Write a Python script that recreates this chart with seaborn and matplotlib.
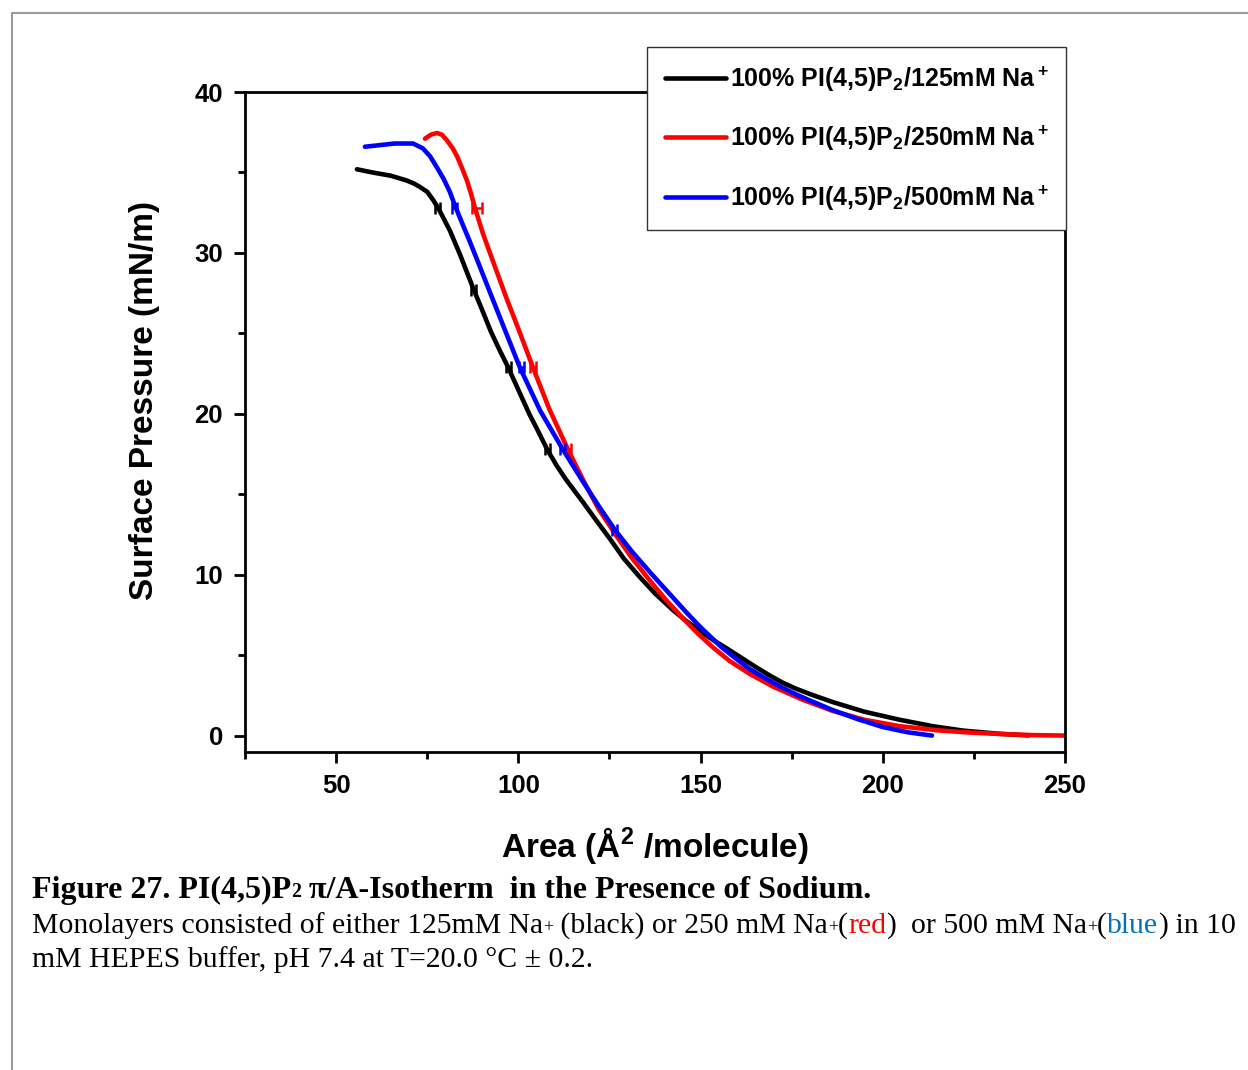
import numpy as np
import pandas as pd
import matplotlib
matplotlib.use("Agg")
import matplotlib.pyplot as plt
import seaborn as sns
from matplotlib.lines import Line2D
from matplotlib.transforms import IdentityTransform

# ---------------- data ----------------
black_x = [55.7, 60, 65, 69.4, 71.5, 73, 75, 76.6, 78, 81.2, 84, 87.8, 90, 92.5, 95, 97.2, 100,
           103, 105.5, 107.9, 110.5, 113, 117.8, 121.5, 125.1, 129, 133.4, 137.5, 142.5, 146,
           150, 153.5, 157.1, 165, 169, 172.6, 176, 180, 186.3, 195, 204.7, 213.8, 222, 232, 240]
black_y = [35.2, 35.0, 34.8, 34.5, 34.3, 34.1, 33.8, 33.3, 32.8, 31.4, 29.9, 27.7, 26.5, 25.1,
           23.9, 22.9, 21.5, 20.0, 18.9, 17.8, 16.8, 15.95, 14.5, 13.35, 12.25, 11.0, 9.85, 8.85,
           7.8, 7.15, 6.5, 5.95, 5.45, 4.3, 3.75, 3.3, 2.95, 2.6, 2.1, 1.5, 1.0, 0.6, 0.33,
           0.13, 0.03]

red_x = [74.4, 76, 77.7, 79, 80.4, 82, 83.2, 84.5, 85.9, 87, 88.1, 90.3, 93.5, 96.9, 100.5, 104,
         108.5, 113.6, 118, 122, 127, 131, 136.1, 140.5, 145.2, 149.3, 153.4, 158, 163.5, 170,
         178, 186.3, 195, 204.7, 215, 223, 232, 241, 250]
red_y = [37.1, 37.35, 37.45, 37.35, 37.0, 36.5, 36.0, 35.3, 34.5, 33.7, 32.8, 31.2, 29.2, 27.1,
         25.0, 22.9, 20.3, 17.8, 15.8, 14.1, 12.4, 11.1, 9.65, 8.45, 7.3, 6.35, 5.5, 4.65, 3.85,
         3.05, 2.25, 1.55, 1.0, 0.6, 0.35, 0.22, 0.12, 0.05, 0.02]

blue_x = [57.9, 62, 66, 71.1, 73.8, 75.8, 77.7, 79.5, 81.2, 82.6, 84.5, 86.7, 89, 91, 96, 100.4,
          106, 112.2, 118, 122, 126.5, 131, 136, 141, 146, 150, 155.8, 160, 163.5, 168, 172,
          176, 180, 186.3, 193, 200, 207, 213.5]
blue_y = [36.6, 36.7, 36.8, 36.8, 36.5, 36.0, 35.3, 34.6, 33.8, 32.95, 31.9, 30.7, 29.4, 28.25,
          25.4, 22.9, 20.2, 17.8, 15.7, 14.3, 12.8, 11.5, 10.2, 8.95, 7.7, 6.75, 5.5, 4.75,
          4.15, 3.55, 3.05, 2.6, 2.2, 1.6, 1.05, 0.55, 0.22, 0.02]

# horizontal error bars
black_err_x = [77.7, 87.8, 97.2, 107.9]
black_err_y = [32.8, 27.7, 22.9, 17.8]
black_err = [0.7, 0.7, 0.7, 0.7]
red_err_x = [88.6, 104.0, 113.6]
red_err_y = [32.8, 22.9, 17.8]
red_err = [1.4, 0.8, 0.8]
blue_err_x = [82.6, 100.8, 112.2, 126.5]
blue_err_y = [32.8, 22.9, 17.8, 12.8]
blue_err = [0.7, 0.7, 0.7, 0.7]

series_labels = [r"100% PI(4,5)P$_2$/125mM Na$^+$",
                 r"100% PI(4,5)P$_2$/250mM Na$^+$",
                 r"100% PI(4,5)P$_2$/500mM Na$^+$"]
series_colors = ["#000000", "#FF0000", "#0000FF"]

x_major = [50, 100, 150, 200, 250]
x_minor = [25, 75, 125, 175, 225]
y_major = [0, 10, 20, 30, 40]
y_minor = [5, 15, 25, 35]

# ---------------- style ----------------
sns.set_theme(style="ticks")
plt.rcParams["font.family"] = ["Liberation Sans", "DejaVu Sans"]
plt.rcParams["font.weight"] = "bold"
plt.rcParams["text.color"] = "black"
plt.rcParams["axes.labelcolor"] = "black"
plt.rcParams["xtick.color"] = "black"
plt.rcParams["ytick.color"] = "black"
plt.rcParams["mathtext.fontset"] = "custom"
plt.rcParams["mathtext.rm"] = "Liberation Sans:bold"
plt.rcParams["mathtext.bf"] = "Liberation Sans:bold"
plt.rcParams["mathtext.it"] = "Liberation Sans:bold"
plt.rcParams["mathtext.sf"] = "Liberation Sans:bold"
plt.rcParams["mathtext.default"] = "rm"

W, H = 1248, 1070
fig = plt.figure(figsize=(W / 100, H / 100), dpi=100)
fig.patch.set_facecolor("white")
ax = fig.add_axes([245 / W, 1 - 752 / H, 820 / W, 660 / H])
ax.set_facecolor("white")

frames = []
for lab, xs, ys in zip(series_labels, [black_x, red_x, blue_x], [black_y, red_y, blue_y]):
    frames.append(pd.DataFrame({"area": xs, "pressure": ys, "series": lab}))
df = pd.concat(frames, ignore_index=True)

sns.lineplot(data=df, x="area", y="pressure", hue="series",
             palette=dict(zip(series_labels, series_colors)),
             sort=False, estimator=None, linewidth=3.3, legend=False, ax=ax)
for ln in ax.get_lines():
    ln.set_solid_joinstyle("round")
    ln.set_solid_capstyle("round")

for ex, ey, ee, c in [(black_err_x, black_err_y, black_err, series_colors[0]),
                      (red_err_x, red_err_y, red_err, series_colors[1]),
                      (blue_err_x, blue_err_y, blue_err, series_colors[2])]:
    ax.errorbar(ex, ey, xerr=ee, fmt="none", ecolor=c, elinewidth=1.8,
                capsize=4.5, capthick=1.8, zorder=3)

ax.set_xlim(25, 250)
ax.set_ylim(-1, 40)
ax.set_xticks(x_major)
ax.set_xticks(x_minor, minor=True)
ax.set_yticks(y_major)
ax.set_yticks(y_minor, minor=True)
ax.tick_params(which="major", direction="out", length=8, width=2, labelsize=18.5,
               pad=8, colors="black")
ax.tick_params(which="minor", direction="out", length=5, width=2, colors="black")
for lbl in ax.get_xticklabels() + ax.get_yticklabels():
    lbl.set_fontweight("bold")
for sp in ax.spines.values():
    sp.set_linewidth(2)
    sp.set_color("black")

ax.set_xlabel(r"Area (Å$^2$ /molecule)", fontsize=24, fontweight="bold", color="black")
ax.set_ylabel("Surface Pressure (mN/m)", fontsize=24, fontweight="bold", color="black")
ax.xaxis.set_label_coords(0.5, -0.111)
ax.yaxis.set_label_coords(-0.104, 0.532)

handles = [Line2D([0], [0], color=c, lw=3.3) for c in series_colors]
leg = ax.legend(handles, series_labels, loc="upper right", bbox_to_anchor=(1.001, 1.068),
                borderaxespad=0, frameon=True, fancybox=False, framealpha=1,
                edgecolor="#333333", prop={"size": 18, "weight": "bold"},
                handlelength=2.45, handletextpad=0.15, labelspacing=1.2, borderpad=0.7)
leg.get_frame().set_linewidth(1.0)
leg.set_zorder(10)
for t in leg.get_texts():
    t.set_color("black")

# page border lines
fig.add_artist(Line2D([12 / W, 1], [1 - 13 / H, 1 - 13 / H], color="#9a9a9a", lw=1.5,
                      transform=fig.transFigure))
fig.add_artist(Line2D([12 / W, 12 / W], [0, 1 - 13 / H], color="#9a9a9a", lw=1.5,
                      transform=fig.transFigure))

# ---------------- caption ----------------
renderer = fig.canvas.get_renderer()
serif = ["Liberation Serif", "DejaVu Serif"]


def text_width(s, size, weight):
    t = fig.text(0, 0, "|" + s + "|", fontsize=size, family=serif, fontweight=weight,
                 transform=IdentityTransform())
    w1 = t.get_window_extent(renderer).width
    t.remove()
    t = fig.text(0, 0, "||", fontsize=size, family=serif, fontweight=weight,
                 transform=IdentityTransform())
    w2 = t.get_window_extent(renderer).width
    t.remove()
    return w1 - w2


def total_width(pieces, size, weight):
    return sum(text_width(s, size * sc, weight) for s, sc, _, _ in pieces)


def place(pieces, x0, baseline_img, size, weight):
    x = x0
    for s, scale, color, dy in pieces:
        fs = size * scale
        fig.text(x, H - baseline_img - dy * size, s, fontsize=fs, family=serif,
                 fontweight=weight, color=color, va="baseline", ha="left",
                 transform=IdentityTransform())
        x += text_width(s, fs, weight)
    return x


k = "#000000"
title_pieces = [("Figure 27. PI(4,5)P", 1, k, 0), ("2", 0.62, k, -0.06),
                (" π/A-Isotherm  in the Presence of Sodium.", 1, k, 0)]
line1_pieces = [("Monolayers consisted of either 125mM Na", 1, k, 0), ("+", 0.6, k, -0.02),
                (" (black) or 250 mM Na", 1, k, 0), ("+", 0.6, k, -0.02), ("(", 1, k, 0),
                ("red", 1, "#FF0000", 0), (")", 1, k, 0), ("  or 500 mM Na", 1, k, 0),
                ("+", 0.6, k, -0.02), ("(", 1, k, 0), ("blue", 1, "#0070C0", 0),
                (")", 1, k, 0), (" in 10", 1, k, 0)]
line2_pieces = [("mM HEPES buffer, pH 7.4 at T=20.0 °C ± 0.2.", 1, k, 0)]

# fit the caption to the widths measured on the reference
title_size = 20 * 838 / total_width(title_pieces, 20, "bold")
body_size = 20 * 1204 / total_width(line1_pieces, 20, "normal")

place(title_pieces, 32, 898, title_size, "bold")
place(line1_pieces, 32, 933, body_size, "normal")
place(line2_pieces, 32, 967, body_size, "normal")

fig.savefig("out.png", dpi=100, facecolor="white")
